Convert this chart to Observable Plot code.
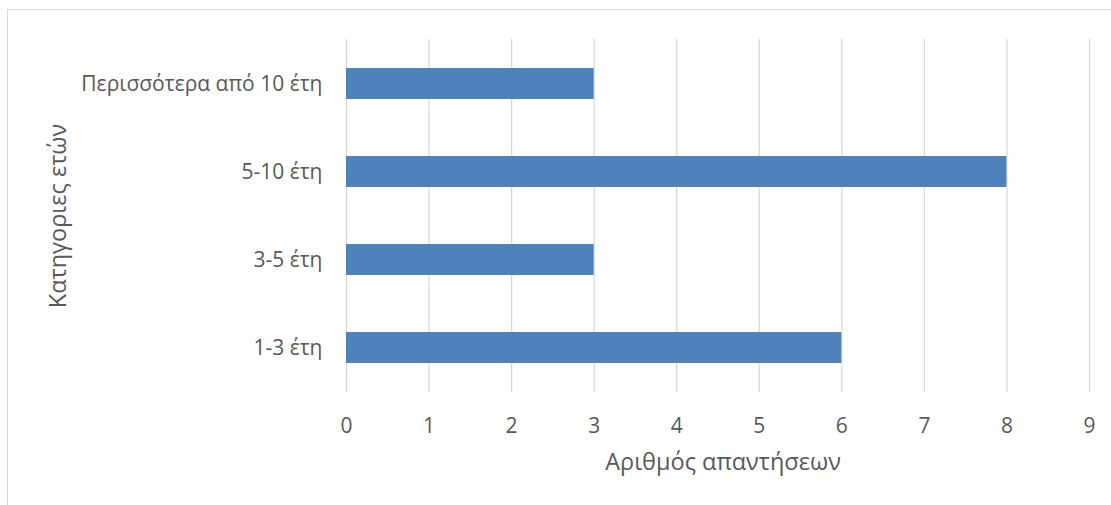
<!DOCTYPE html>
<html>
<head>
<meta charset="utf-8">
<script src="https://cdn.jsdelivr.net/npm/d3@7"></script>
<script src="https://cdn.jsdelivr.net/npm/@observablehq/plot@0.6"></script>
<style>
  html, body { margin: 0; padding: 0; background: #fff; }
  #chart { position: relative; width: 1111px; height: 505px; overflow: hidden; }
  #box {
    position: absolute; left: 7px; top: 9px; width: 1200px; height: 600px;
    border-top: 1px solid #D9D9D9; border-left: 1px solid #D9D9D9;
  }
  #chart svg { position: absolute; left: 0; top: 0; }
</style>
</head>
<body>
<div id="chart"><div id="box"></div></div>
<script>
// Years-of-experience categories and number of responses per category
const categories = ["1-3 έτη", "3-5 έτη", "5-10 έτη", "Περισσότερα από 10 έτη"];
const counts = [6, 3, 8, 3];
const xTicks = [0, 1, 2, 3, 4, 5, 6, 7, 8, 9];
const xTitle = "Αριθμός απαντήσεων";
const yTitle = "Κατηγοριες ετών";

const rows = categories.map((c, i) => ({category: c, count: counts[i]}));
const textColor = "#595959";
const font = "'Open Sans', 'DejaVu Sans', sans-serif";

const chart = Plot.plot({
  width: 1111,
  height: 505,
  marginLeft: 346,
  marginRight: 22,
  marginTop: 39,
  marginBottom: 113,
  style: {fontFamily: font, color: textColor, background: "transparent"},
  x: {domain: [0, 9], ticks: xTicks},
  y: {domain: categories.slice().reverse(), paddingInner: 0.645, paddingOuter: 0.3225},
  marks: [
    Plot.gridX(xTicks, {stroke: "#D9D9D9", strokeOpacity: 1, strokeWidth: 1.3}),
    Plot.barX(rows, {x: "count", y: "category", fill: "#4F81BD"}),
    Plot.axisX({ticks: xTicks, tickSize: 0, tickPadding: 26, fontSize: 21, fill: textColor, label: null}),
    Plot.axisY({tickSize: 0, tickPadding: 24, fontSize: 21, fill: textColor, label: null}),
    Plot.text([xTitle], {frameAnchor: "bottom", dy: 70, dx: 5, lineAnchor: "middle", textAnchor: "middle", fontSize: 23.5, fill: textColor}),
    Plot.text([yTitle], {frameAnchor: "left", dx: -288, rotate: -90, lineAnchor: "middle", textAnchor: "middle", fontSize: 23.5, fill: textColor})
  ]
});
document.getElementById("chart").appendChild(chart);
</script>
</body>
</html>
